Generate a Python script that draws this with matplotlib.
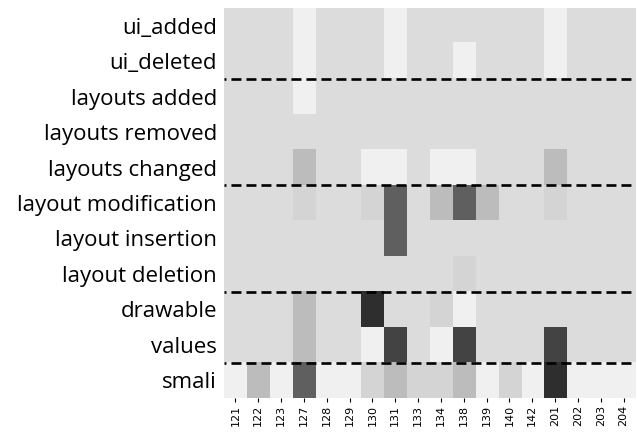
import numpy as np
import matplotlib
matplotlib.use("Agg")
import matplotlib.pyplot as plt
from matplotlib.colors import LinearSegmentedColormap

rows = ["ui_added", "ui_deleted", "layouts added", "layouts removed",
        "layouts changed", "layout modification", "layout insertion",
        "layout deletion", "drawable", "values", "smali"]
cols = ["121", "122", "123", "127", "128", "129", "130", "131", "133",
        "134", "138", "139", "140", "142", "201", "202", "203", "204"]

# intensity levels (0 = lightest, 1 = darkest)
L, B, S, M, D1, D2, D3 = 0.0, 0.1, 0.14, 0.26, 0.73, 0.87, 0.975

ui_added            = [B, B, B, L, B, B, B, L, B, B, B, B, B, B, L, B, B, B]
ui_deleted          = [B, B, B, L, B, B, B, L, B, B, L, B, B, B, L, B, B, B]
layouts_added       = [B, B, B, L, B, B, B, B, B, B, B, B, B, B, B, B, B, B]
layouts_removed     = [B, B, B, B, B, B, B, B, B, B, B, B, B, B, B, B, B, B]
layouts_changed     = [B, B, B, M, B, B, L, L, B, L, L, B, B, B, M, B, B, B]
layout_modification = [B, B, B, S, B, B, S, D1, B, M, D1, M, B, B, S, B, B, B]
layout_insertion    = [B, B, B, B, B, B, B, D1, B, B, B, B, B, B, B, B, B, B]
layout_deletion     = [B, B, B, B, B, B, B, B, B, B, S, B, B, B, B, B, B, B]
drawable            = [B, B, B, M, B, B, D3, B, B, S, L, B, B, B, B, B, B, B]
values              = [B, B, B, M, B, B, L, D2, B, L, D2, B, B, B, D2, B, B, B]
smali               = [L, M, L, D1, L, L, S, M, S, S, M, L, S, L, D3, L, L, L]

data = np.array([ui_added, ui_deleted, layouts_added, layouts_removed,
                 layouts_changed, layout_modification, layout_insertion,
                 layout_deletion, drawable, values, smali])

group_breaks = [1.5, 4.5, 7.5, 9.5]

plt.rcParams['lines.scale_dashes'] = False
cmap = LinearSegmentedColormap.from_list("g", ["#f0f0f0", "#2a2a2a"])

fig = plt.figure(figsize=(6.37, 4.32), dpi=100)
ax = fig.add_axes([0.3516, 0.0787, 0.6453, 0.9028])
ax.imshow(data, cmap=cmap, vmin=0, vmax=1, aspect='auto', interpolation='nearest')

for y in group_breaks:
    ax.axhline(y, color='black', lw=1.9, linestyle=(5.8, (7.2, 3.6)))

ax.set_xticks(np.arange(len(cols)))
ax.set_xticklabels(cols, rotation=90, fontsize=8)
ax.set_yticks(np.arange(len(rows)))
ax.set_yticklabels(rows, fontsize=16, family="Open Sans")
ax.tick_params(axis='y', length=0, pad=5)
ax.tick_params(axis='x', length=3, width=0.8, pad=2)
for s in ax.spines.values():
    s.set_visible(False)
ax.set_xlim(-0.5, len(cols) - 0.5)
ax.set_ylim(len(rows) - 0.5, -0.5)

fig.savefig("out.png", dpi=100)
